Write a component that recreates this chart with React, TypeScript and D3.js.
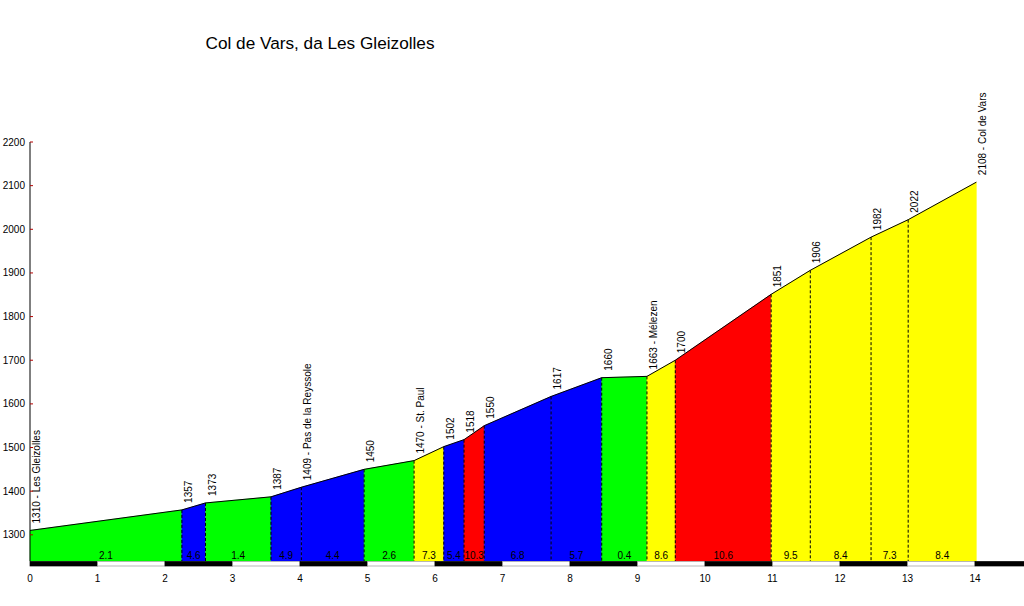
import React from "react";
import * as d3 from "d3";

const kms = [0, 2.25, 2.6, 3.57, 4.02, 4.95, 5.69, 6.13, 6.43, 6.73, 7.72, 8.47, 9.14, 9.56, 10.98, 11.56, 12.46, 13.01, 14.02];
const elevs = [1310, 1357, 1373, 1387, 1409, 1450, 1470, 1502, 1518, 1550, 1617, 1660, 1663, 1700, 1851, 1906, 1982, 2022, 2108];
const placeNames: Record<number, string> = { 0: "Les Gleizolles", 4: "Pas de la Reyssole", 6: "St. Paul", 12: "Mélezen", 18: "Col de Vars" };
const grades = [2.1, 4.6, 1.4, 4.9, 4.4, 2.6, 7.3, 5.4, 10.3, 6.8, 5.7, 0.4, 8.6, 10.6, 9.5, 8.4, 7.3, 8.4];
const yTicks = [1300, 1400, 1500, 1600, 1700, 1800, 1900, 2000, 2100, 2200];
const xTicks = d3.range(0, 15);
const title = "Col de Vars, da Les Gleizolles";

const W = 1024, H = 606;
const FONT = "Liberation Sans, Arial, sans-serif";

function gradeColor(g: number) {
  if (g < 4) return "#00ff00";
  if (g < 7) return "#0000ff";
  if (g < 10) return "#ffff00";
  return "#ff0000";
}

export default function App() {
  const x = d3.scaleLinear().domain([0, 14]).range([30, 975]);
  const y = d3.scaleLinear().domain([1240, 2200]).range([561, 142]);
  const base = y(1240);
  const pts = kms.map((k, i) => [x(k), y(elevs[i])] as [number, number]);
  const line = d3.line();
  const barKm = d3.range(0, 16);

  return (
    <svg width={W} height={H} style={{ position: "absolute", left: 0, top: 0, background: "#fff" }} fontFamily={FONT}>
      <rect x={0} y={0} width={W} height={H} fill="#fff" />
      <text x={320} y={48.5} fontSize={17.2} textAnchor="middle" fill="#000">{title}</text>

      {grades.map((g, i) => {
        const x0 = x(kms[i]), x1 = x(kms[i + 1]);
        const y0 = y(elevs[i]), y1 = y(elevs[i + 1]);
        return (
          <path key={"s" + i} d={`M${x0},${base}L${x0},${y0}L${x1},${y1}L${x1},${base}Z`} fill={gradeColor(g)} stroke={gradeColor(g)} strokeWidth={0.5} />
        );
      })}

      {kms.slice(1, -1).map((k, i) => (
        <line key={"d" + i} x1={x(k)} x2={x(k)} y1={y(elevs[i + 1])} y2={base} stroke="#000" strokeWidth={1} strokeDasharray="3,2" />
      ))}

      <path d={line(pts) || ""} fill="none" stroke="#000" strokeWidth={1} />

      {grades.map((g, i) => (
        <text key={"g" + i} x={(x(kms[i]) + x(kms[i + 1])) / 2} y={558.5} fontSize={10} textAnchor="middle" fill="#000">{g.toFixed(1)}</text>
      ))}

      {kms.map((k, i) => {
        const label = placeNames[i] ? `${elevs[i]} - ${placeNames[i]}` : `${elevs[i]}`;
        const tx = x(k) + 10, ty = y(elevs[i]) - 7;
        return (
          <text key={"e" + i} transform={`translate(${tx},${ty}) rotate(-90)`} fontSize={10} fill="#000">{label}</text>
        );
      })}

      <line x1={30} x2={30} y1={y(2200)} y2={base} stroke="#000" strokeWidth={1} />
      {yTicks.map((t) => (
        <g key={"yt" + t}>
          <line x1={30} x2={33} y1={y(t)} y2={y(t)} stroke="#b00000" strokeWidth={1} />
          <text x={25} y={y(t) + 3.5} fontSize={10} textAnchor="end" fill="#000">{t}</text>
        </g>
      ))}

      {barKm.map((k) => (
        <rect key={"b" + k} x={x(k)} y={base + 0.5} width={x(k + 1) - x(k)} height={4.5}
          fill={k % 2 === 0 ? "#000" : "#fff"} stroke={k % 2 === 0 ? "#000" : "#999"} strokeWidth={0.7} />
      ))}

      {xTicks.map((t) => (
        <text key={"xt" + t} x={x(t)} y={582} fontSize={10} textAnchor="middle" fill="#000">{t}</text>
      ))}
    </svg>
  );
}
